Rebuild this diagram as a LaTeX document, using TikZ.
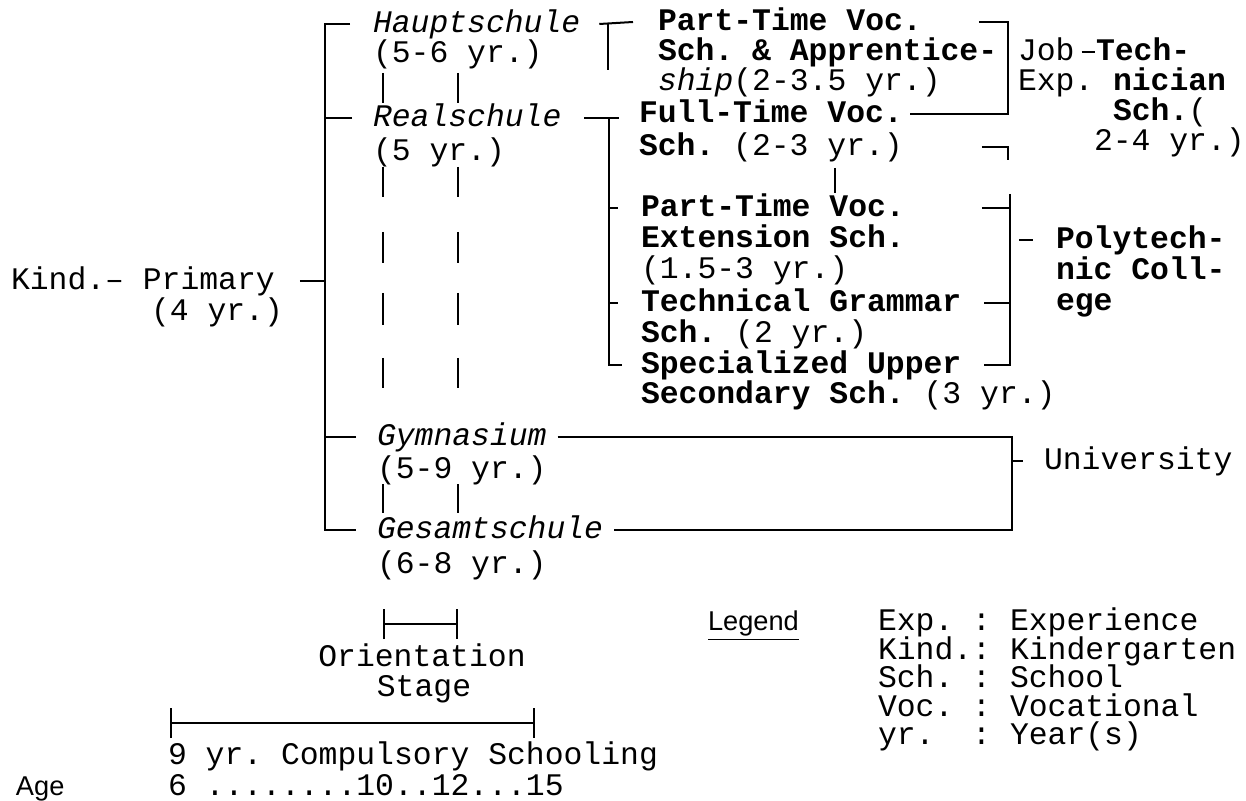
\documentclass[tikz,border=0pt]{standalone}
\usepackage{fontspec}
\setmonofont{Liberation Mono}
\setsansfont{Liberation Sans}
\usetikzlibrary{arrows.meta}
\newcommand{\yrfont}{\fontsize{15.7}{16}\selectfont\ttfamily\frenchspacing}

\begin{document}
\begin{tikzpicture}[x=0.5pt,y=-0.5pt,line width=1pt,
  txt/.style={anchor=west,inner sep=0pt,font=\yrfont,text height=11.8pt,text depth=3.1pt},
  bld/.style={txt,font=\yrfont\bfseries},
  itl/.style={txt,font=\yrfont\itshape},
  lbl/.style={txt,font=\fontsize{13.6}{14}\selectfont\sffamily},
  span/.style={{Bar[width=15pt]}-{Bar[width=15pt]}}]
  \useasboundingbox (0,0) rectangle (1246,801);

  \node[txt] (prim) at (10,281) {Kind.– Primary};
  \node[txt] (primyr) at (150,312) {(4 yr.)};
  \node[itl] (haupt) at (372,24) {Hauptschule};
  \node[txt] (hauptyr) at (372,54) {(5-6 yr.)};
  \node[itl] (real) at (372,118) {Realschule};
  \node[txt] (realyr) at (372,152) {(5 yr.)};
  \node[itl] (gym) at (376,437) {Gymnasium};
  \node[txt] (gymyr) at (376,470) {(5-9 yr.)};
  \node[itl] (gesamt) at (376,530) {Gesamtschule};
  \node[txt] (gesamtyr) at (376,565) {(6-8 yr.)};

  \node[bld] (ptv) at (657,22) {Part-Time Voc.};
  \node[bld] (appr) at (657,52) {Sch. \& Apprentice-};
  \node[txt] (appryr) at (657,82) {\textit{ship}(2-3.5 yr.)};
  \node[bld] (ftv) at (638,114) {Full-Time Voc.};
  \node[txt] (ftvyr) at (638,147) {\textbf{Sch.} (2-3 yr.)};
  \node[bld] (pte) at (640,208) {Part-Time Voc.};
  \node[bld] (ext) at (640,239) {Extension Sch.};
  \node[txt] (extyr) at (640,270) {(1.5-3 yr.)};
  \node[bld] (tgs) at (640,303) {Technical Grammar};
  \node[txt] (tgsyr) at (640,334) {\textbf{Sch.} (2 yr.)};
  \node[bld] (sus) at (640,365) {Specialized Upper};
  \node[txt] (susyr) at (640,395) {\textbf{Secondary Sch.} (3 yr.)};

  \node[txt] (job) at (1017,52) {Job};
  \node[txt] (exp) at (1017,82) {Exp.};
  \node[bld] (tech) at (1095,52) {Tech-};
  \node[bld] (nic) at (1112,82) {nician};
  \node[txt] (techsch) at (1112,112) {\textbf{Sch.}(};
  \node[txt] (techyr) at (1093,142) {2-4 yr.)};
  \node[bld] (poly) at (1055,240) {Polytech-};
  \node[bld] (coll) at (1055,271) {nic Coll-};
  \node[bld] (ege) at (1055,302) {ege};
  \node[txt] (uni) at (1043,461) {University};

  \node[txt,anchor=center] (orient) at (422,658) {Orientation};
  \node[txt,anchor=center] (stage) at (424,688) {Stage};
  \node[txt] (comp) at (167,756) {9 yr. Compulsory Schooling};
  \node[lbl] (age) at (15,787) {Age};
  \node[txt] (ages) at (167,787) {6 ........10..12...15};

  \node[lbl] (leg) at (707,622) {\underline{Legend}};
  \foreach \ab/\word [count=\i] in {Exp./Experience,Kind./Kindergarten,Sch./School,Voc./Vocational,yr./Year(s)}{
    \node[txt] (legab\i) at (877,{593.5+28.5*\i}) {\ab};
    \node[txt] (legcol\i) at (971,{593.5+28.5*\i}) {:};
    \node[txt] (legword\i) at (1009,{593.5+28.5*\i}) {\word};
  }

  \coordinate (spB) at (325,530);
  \draw ([xshift=-11pt]haupt.west) -| (spB) -- ([xshift=-10pt]gesamt.west);
  \draw ([xshift=-10pt]real.west) -- (spB |- real.west);
  \draw ([xshift=-10pt]gym.west) -- (spB |- gym.west);
  \draw ([xshift=12pt]prim.east) -- (spB |- prim.east);

  \coordinate (hb) at (608,70);
  \draw ([xshift=9pt]haupt.east) -- ([xshift=-12pt]ptv.west);
  \draw (hb |- haupt.east) -- (hb);

  \coordinate (rb) at (609,365);
  \draw ([xshift=11pt]real.east) -- ([xshift=5pt]rb |- real.east);
  \draw (rb |- real.east) -- (rb) -- ([xshift=-9pt]sus.west);
  \draw (rb |- pte.west) -- ([xshift=-11pt]pte.west);
  \draw (rb |- tgs.west) -- ([xshift=-11pt]tgs.west);

  \coordinate (jb) at (1008,114);
  \draw ([xshift=28pt]ptv.east) -| (jb) -- ([xshift=3pt]ftv.east);
  \draw ([xshift=3pt]job.east) -- (tech.west);
  \coordinate (fb) at (1008,160);
  \draw ([xshift=39pt]ftvyr.east) -| (fb);
  \coordinate (fvT) at (835,168);
  \coordinate (fvB) at (835,193);
  \draw (fvT) -- (fvB);

  \coordinate (pbT) at (1010,194);
  \coordinate (pb) at (1010,365);
  \draw ([xshift=38pt]pte.east) -- (pb |- pte.east);
  \draw ([xshift=11pt]tgs.east) -- (pb |- tgs.east);
  \draw (pbT) -- (pb) -- ([xshift=11pt]sus.east);
  \draw ([xshift=-18pt]poly.west) -- ([xshift=-11pt]poly.west);

  \coordinate (ub) at (1012,530);
  \draw ([xshift=5pt]gym.east) -| (ub) -- ([xshift=5pt]gesamt.east);
  \draw (ub |- uni.west) -- ([xshift=-10pt]uni.west);

  \coordinate (oL) at (383,624);
  \coordinate (oR) at (458,624);
  \draw[span] (oL) -- (oR);
  \foreach \ya/\yb in {73/103,167/197,232/263,293/325,358/388,484/513}{
    \draw (oL |- 0,\ya) -- (oL |- 0,\yb);
    \draw (oR |- 0,\ya) -- (oR |- 0,\yb);
  }
  \coordinate (cL) at (170,723);
  \coordinate (cR) at (535,723);
  \draw[span] (cL) -- (cR);
\end{tikzpicture}
\end{document}
